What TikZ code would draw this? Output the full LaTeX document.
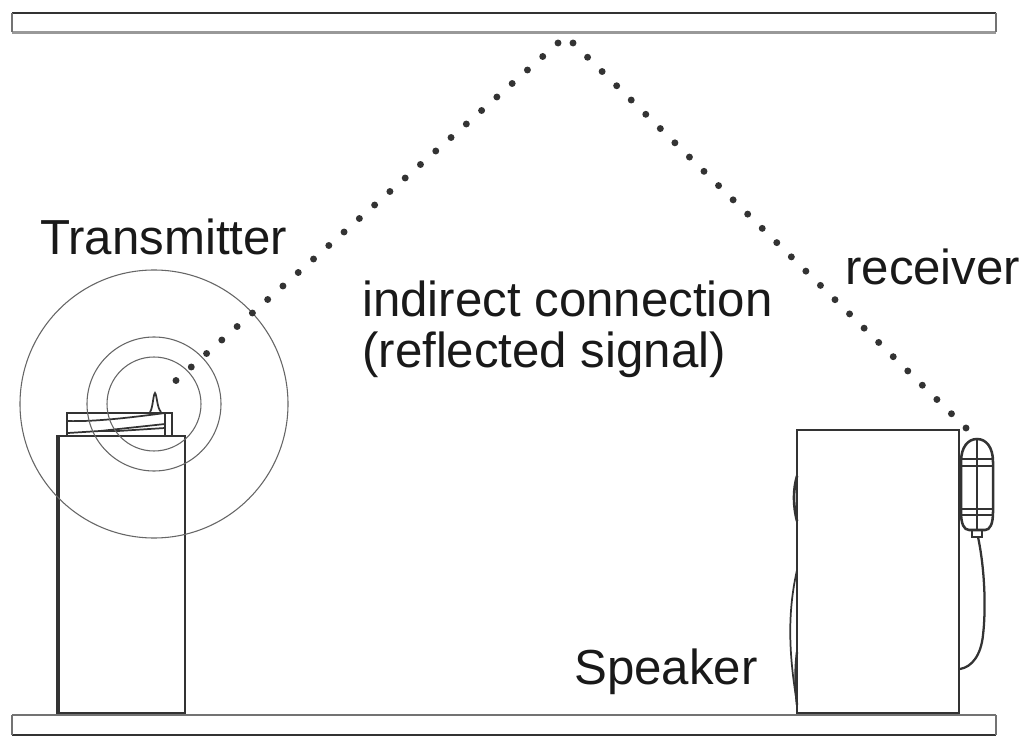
\documentclass[tikz,border=0pt]{standalone}
\usepackage{fontspec}
\setmainfont{Liberation Sans}
\usetikzlibrary{calc}
\definecolor{ink}{gray}{0.2}
\tikzset{
  px/.style={x=0.75pt,y=-0.75pt},
  box/.style={draw=ink,line width=2.2pt,fill=white},
  ring/.style={draw=black!60,line width=0.8pt,circle,inner sep=0pt},
  fine/.style={draw=ink,line width=1.3pt},
  sdot/.style={circle,fill=ink,inner sep=0pt,minimum size=5.2pt},
  lbl/.style={inner sep=0pt,anchor=base west,text=black!90,font=\fontsize{36.9pt}{40pt}\selectfont},
}
\begin{document}
\begin{tikzpicture}[px]
\useasboundingbox[fill=white] (0,0) rectangle (1023,737);
% ceiling and floor
\draw[draw=ink,line width=1.8pt] (12,13) -- (996,13);
\draw[draw=black!40,line width=1.8pt] (12,32.5) -- (996,32.5);
\draw[draw=black!55,line width=1.2pt] (12,13) -- (12,32.5) (996,13) -- (996,32.5);
\draw[draw=black!55,line width=1.4pt] (12,715) -- (996,715);
\draw[draw=ink,line width=1.8pt] (12,735) -- (996,735);
\draw[draw=black!55,line width=1.2pt] (12,715) -- (12,735) (996,715) -- (996,735);
% transmitter stand
\draw[box] (57,436) rectangle (185,713);
\draw[draw=ink,line width=3.2pt] (58,436) -- (58,713);
% transmitter device
\draw[fine] (67,436) -- (67,413) -- (172,413) -- (172,436);
\draw[fine] (165,413) -- (165,436);
\draw[fine] (67,421) .. controls (95,422) and (135,417) .. (165,413);
\draw[fine] (68,433) -- (100,431) -- (118,431) -- (165,428);
\draw[fine] (100,431) -- (165,424);
\draw[fine] (150,412) .. controls (153,408) and (153,395) .. (155,393) .. controls (157,395) and (157,408) .. (161,412);
% rings
\node[ring,minimum size=201pt] (outerring) at (154,404) {};
\node[ring,minimum size=100.5pt] (midring) at (154,404) {};
\node[ring,minimum size=70.5pt] (innerring) at (154,404) {};
% speaker
\draw[box] (797,430) rectangle (959,713);
\draw[fine,line width=2pt] (797,476) .. controls (793,490) and (793,505) .. (797,521);
\draw[fine] (797,570) .. controls (788,610) and (788,650) .. (797,703);
\draw[fine,line width=1.8pt] (797,652) .. controls (795,670) and (795,685) .. (797,705);
% receiver
\draw[fine,line width=1.9pt,fill=white] (961,462) .. controls (961,447) and (968,439) .. (977,439) .. controls (986,439) and (993,447) .. (993,462) -- (993,512) .. controls (993,524) and (990,530) .. (985,530) -- (969,530) .. controls (964,530) and (961,524) .. (961,512) -- cycle;
\draw[fine,line width=1.6pt] (961,459) -- (993,459) (961,466) -- (993,466);
\draw[fine,line width=1.6pt] (961,509) -- (993,509) (961,515) -- (993,515);
\draw[fine] (977,439) -- (977,530);
\draw[fine] (972,530) -- (972,537) -- (982,537) -- (982,530);
\coordinate (plug) at (978,537);
\coordinate (socket) at (960,669);
\draw[fine,line width=1.7pt] (plug) .. controls (985,570) and (986,610) .. (983,635) .. controls (981,655) and (972,667) .. (socket);
% signal path
\coordinate (tx) at (176,380.5);
\coordinate (peakL) at (558,43);
\coordinate (peakR) at (573,43);
\coordinate (rx) at (966,428);
\foreach \i in {0,...,25} \node[sdot] at ($(tx)!\i/25!(peakL)$) {};
\foreach \i in {0,...,27} \node[sdot] at ($(peakR)!\i/27!(rx)$) {};
% labels
\node[lbl] (ltx) at (40,254.5) {Transmitter};
\node[lbl] (lrx) at (845,284.5) {receiver};
\node[lbl] (lind) at (362,316.5) {indirect connection};
\node[lbl] (lref) at (362,367.5) {(reflected signal)};
\node[lbl] (lspk) at (574,684.5) {Speaker};
\end{tikzpicture}
\end{document}
